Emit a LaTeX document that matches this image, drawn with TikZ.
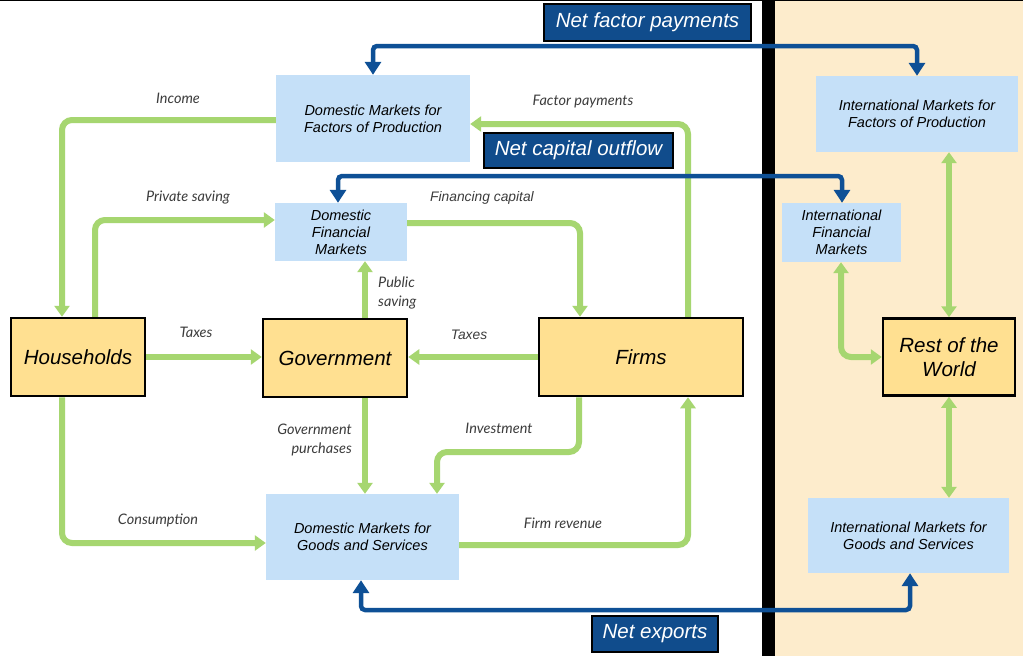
\documentclass[tikz,border=0pt]{standalone}
\usepackage{fontspec}
\setmainfont{Liberation Sans}
\newfontfamily\lbl{Lato}
\usetikzlibrary{arrows.meta}
\definecolor{beige}{RGB}{253,236,204}
\definecolor{boxyel}{RGB}{255,224,145}
\definecolor{boxblue}{RGB}{197,224,248}
\definecolor{flowgreen}{RGB}{166,214,112}
\definecolor{navy}{RGB}{14,80,150}
\definecolor{labnavy}{RGB}{16,76,140}
\definecolor{labgray}{RGB}{60,60,60}
\tikzset{
  sector/.style={draw=black, line width=2.5pt, fill=boxyel, inner sep=0pt, font=\fontsize{20.5}{24}\selectfont\itshape, align=center},
  market/.style={fill=boxblue, inner sep=0pt, font=\fontsize{14.5}{17}\selectfont\itshape, align=center},
  netlab/.style={draw=black, line width=1.5pt, fill=labnavy, text=white, inner sep=0pt, font=\fontsize{20.5}{22}\selectfont\itshape},
  flow/.style={draw=flowgreen, line width=6pt, rounded corners=10pt, -{Triangle[width=15pt,length=11pt]}},
  dflow/.style={draw=flowgreen, line width=6pt, {Triangle[width=15pt,length=11pt]}-{Triangle[width=15pt,length=11pt]}},
  netflow/.style={draw=navy, line width=4.5pt, rounded corners=4pt, {Triangle[width=16pt,length=13pt]}-{Triangle[width=16pt,length=13pt]}},
  flab/.style={text=labgray, font=\lbl\fontsize{14.5}{19}\selectfont\itshape, inner sep=0pt},
  alab/.style={text=labgray, font=\fontsize{13.8}{16}\selectfont\itshape, inner sep=0pt}
}
\begin{document}
\begin{tikzpicture}[x=1pt,y=-1pt]
\useasboundingbox (0,0) rectangle (1023,656);
% backgrounds
\fill[white] (0,0) rectangle (762,656);
\fill[beige] (775,0) rectangle (1023,656);
\fill[black] (762,0) rectangle (775,656);
\draw[black, line width=1pt] (0,0.5) -- (1023,0.5);

% sector nodes
\node[sector, minimum width=134pt, minimum height=78pt] (hh) at (78,357) {Households};
\node[sector, minimum width=144pt, minimum height=78pt] (gov) at (335,358) {Government};
\node[sector, minimum width=204pt, minimum height=78pt] (firms) at (641,357) {Firms};
\node[sector, minimum width=132pt, minimum height=77pt] (row) at (949,357) {Rest of the\\World};

% market nodes
\node[market, minimum width=194pt, minimum height=87pt] (dfp) at (373,118.5) {Domestic Markets for\\Factors of Production};
\node[market, minimum width=132pt, minimum height=58pt] (dfm) at (341,232) {Domestic\\Financial\\Markets};
\node[market, minimum width=193pt, minimum height=86pt] (dgs) at (362.5,537) {Domestic Markets for\\Goods and Services};
\node[market, minimum width=202pt, minimum height=76pt] (ifp) at (917,114) {International Markets for\\Factors of Production};
\node[market, minimum width=119pt, minimum height=59pt] (ifm) at (841.5,232.5) {International\\Financial\\Markets};
\node[market, minimum width=201pt, minimum height=75pt] (igs) at (908.5,535.5) {International Markets for\\Goods and Services};

% net labels
\node[netlab, minimum width=207pt, minimum height=37pt] (nfp) at (647.5,22.5) {Net factor payments};
\node[netlab, minimum width=189pt, minimum height=35pt] (nco) at (578.5,150.5) {Net capital outflow};
\node[netlab, minimum width=126pt, minimum height=36pt] (nx) at (655,634) {Net exports};

% green flows
\draw[flow] (dfp.west |- 0,120) -- (62,120) -- (hh.north -| 62,0);
\draw[flow] (hh.north -| 95,0) -- (95,220) -- (dfm.west |- 0,220);
\draw[flow] (hh.east |- 0,357) -- (gov.west |- 0,357);
\draw[flow] (gov.north -| 365,0) -- (dfm.south -| 365,0);
\draw[flow] (firms.west |- 0,357) -- (gov.east |- 0,357);
\draw[flow] (gov.south -| 365,0) -- (dgs.north -| 365,0);
\draw[flow] (hh.south -| 62,0) -- (62,543) -- (dgs.west |- 0,543);
\draw[flow] (dfm.east |- 0,223) -- (580,223) -- (firms.north -| 580,0);
\draw[flow] (firms.north -| 688,0) -- (688,124) -- (dfp.east |- 0,124);
\draw[flow] (firms.south -| 579,0) -- (579,452) -- (437,452) -- (dgs.north -| 437,0);
\draw[flow] (dgs.east |- 0,545) -- (688,545) -- (firms.south -| 688,0);
\draw[flow, {Triangle[width=15pt,length=11pt]}-{Triangle[width=15pt,length=11pt]}] (ifm.south -| 841,0) -- (841,357) -- (row.west |- 0,357);
\draw[dflow] (ifp.south -| 949,0) -- (row.north -| 949,0);
\draw[dflow] (row.south -| 949,0) -- (igs.north -| 949,0);

% net flows
\draw[netflow] (dfp.north -| 373,0) -- (373,46) -- (917,46) -- (ifp.north -| 917,0);
\draw[netflow] (dfm.north -| 338,0) -- (338,176) -- (842,176) -- (ifm.north -| 842,0);
\draw[netflow] (dgs.south -| 361,0) -- (361,610) -- (910,610) -- (igs.south -| 910,0);

% flow labels
\node[flab] (lincome) at (178,98) {Income};
\node[flab] (lpsave) at (188,198) {Private saving};
\node[flab] (ltaxh) at (196,332) {Taxes};
\node[flab, align=left, anchor=west] (lpub) at (378,293) {Public\\saving};
\node[alab] (ltaxf) at (469,335) {Taxes};
\node[flab, align=right, anchor=east] (lgp) at (352,440) {Government\\purchases};
\node[flab] (linv) at (499,428) {Investment};
\node[flab] (lcons) at (158,520) {Consumption};
\node[flab] (lrev) at (563,523) {Firm revenue};
\node[flab] (lfp) at (583,102) {Factor payments};
\node[alab] (lfin) at (482,198) {Financing capital};
\end{tikzpicture}
\end{document}
